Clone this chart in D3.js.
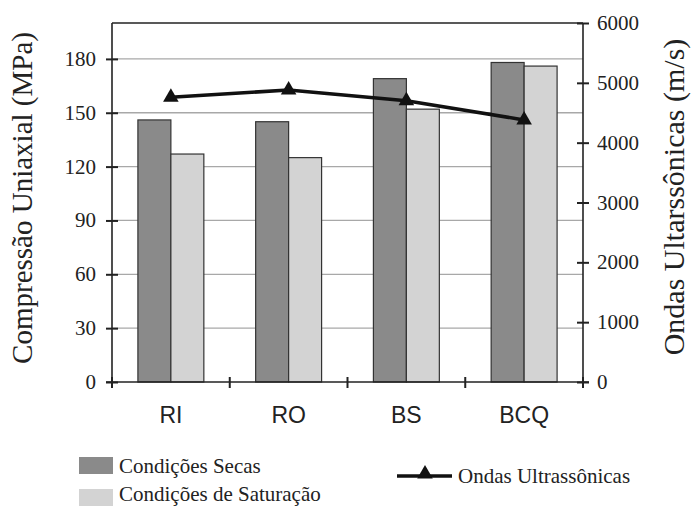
<!DOCTYPE html>
<html>
<head>
<meta charset="utf-8">
<script src="https://cdn.jsdelivr.net/npm/d3@7"></script>
<style>
  html, body { margin: 0; padding: 0; background: #fff; }
  svg { display: block; }
</style>
</head>
<body>
<svg id="chart" width="692" height="506"></svg>
<script>
const categories = ["RI", "RO", "BS", "BCQ"];
const seriesNames = ["Condições Secas", "Condições de Saturação"];
const drySeca = [146, 145, 169, 178];
const saturacao = [127, 125, 152, 176];
const ultrassom = [4760, 4880, 4700, 4380];
const leftTicks = [0, 30, 60, 90, 120, 150, 180];
const rightTicks = [0, 1000, 2000, 3000, 4000, 5000, 6000];
const lineName = "Ondas Ultrassônicas";
const leftTitle = "Compressão Uniaxial (MPa)";
const rightTitle = "Ondas Ultarssônicas (m/s)";

const SERIF = "'Liberation Serif'";
const SANS = "'Liberation Sans'";
const L = 112, R = 583, T = 23, B = 382;

function serifText(parent, px, py, str, size, anchor) {
  return parent.append("text").attr("x", px).attr("y", py)
    .attr("text-anchor", anchor || "start")
    .style("font-family", SERIF).style("font-size", size + "px")
    .attr("fill", "#222").text(str);
}

function draw() {
  const svg = d3.select("#chart");
  svg.selectAll("*").remove();

  const x = d3.scaleBand().domain(categories).range([L, R]).padding(0);
  const bw = x.bandwidth();
  const xs = d3.scaleBand().domain(seriesNames).range([0.22 * bw, 0.78 * bw]).padding(0);
  const yL = d3.scaleLinear().domain([0, 200]).range([B, T]);
  const yR = d3.scaleLinear().domain([0, 6000]).range([B, T]);
  const colors = { "Condições Secas": "#8a8a8a", "Condições de Saturação": "#d3d3d3" };

  // gridlines
  svg.append("g").selectAll("line").data(leftTicks.filter(d => d > 0)).join("line")
    .attr("x1", L).attr("x2", R)
    .attr("y1", d => yL(d)).attr("y2", d => yL(d))
    .attr("stroke", "#a8a8a8").attr("stroke-width", 1.3);

  // top frame
  svg.append("line").attr("x1", L).attr("x2", R).attr("y1", T).attr("y2", T)
    .attr("stroke", "#222").attr("stroke-width", 1.5);

  // bars
  const rows = categories.map((c, i) => ({ c, vals: [drySeca[i], saturacao[i]] }));
  const gBars = svg.append("g");
  rows.forEach(r => {
    seriesNames.forEach((s, j) => {
      gBars.append("rect")
        .attr("x", x(r.c) + xs(s))
        .attr("y", yL(r.vals[j]))
        .attr("width", xs.bandwidth())
        .attr("height", B - yL(r.vals[j]))
        .attr("fill", colors[s])
        .attr("stroke", "#333").attr("stroke-width", 1.2);
    });
  });

  // left axis
  const axL = svg.append("g").attr("transform", `translate(${L},0)`)
    .call(d3.axisLeft(yL).tickValues(leftTicks).tickSize(6).tickFormat(d3.format("d")));
  axL.select(".domain").remove();
  axL.selectAll(".tick text").remove();
  axL.append("line").attr("x1", 0).attr("x2", 0).attr("y1", T).attr("y2", B + 6).attr("stroke", "#222").attr("stroke-width", 1.6);
  axL.selectAll(".tick line").attr("x1", -6).attr("x2", 6).attr("stroke", "#222").attr("stroke-width", 2);
  const gL = svg.append("g");
  leftTicks.forEach(d => serifText(gL, L - 16, yL(d) + 7, String(d), 21, "end"));

  // right axis
  const axR = svg.append("g").attr("transform", `translate(${R},0)`)
    .call(d3.axisRight(yR).tickValues(rightTicks).tickSize(6).tickFormat(d3.format("d")));
  axR.select(".domain").remove();
  axR.selectAll(".tick text").remove();
  axR.append("line").attr("x1", 0).attr("x2", 0).attr("y1", T).attr("y2", B + 6).attr("stroke", "#222").attr("stroke-width", 1.6);
  axR.selectAll(".tick line").attr("x1", -6).attr("x2", 6).attr("stroke", "#222").attr("stroke-width", 2);
  const gR = svg.append("g");
  rightTicks.forEach(d => serifText(gR, R + 14, yR(d) + 7, String(d), 21, "start"));

  // bottom axis
  svg.append("line").attr("x1", L - 6).attr("x2", R + 6).attr("y1", B).attr("y2", B).attr("stroke", "#222").attr("stroke-width", 1.6);
  const bounds = categories.map(c => x(c)).concat([R]);
  svg.append("g").selectAll("line").data(bounds).join("line")
    .attr("x1", d => d).attr("x2", d => d).attr("y1", B - 5).attr("y2", B + 6)
    .attr("stroke", "#222").attr("stroke-width", 2);
  svg.append("g").selectAll("text").data(categories).join("text")
    .attr("x", d => x(d) + bw / 2).attr("y", 423)
    .attr("text-anchor", "middle")
    .style("font-family", SANS).style("font-size", "23px").attr("fill", "#222")
    .text(d => d);

  // line series
  const line = d3.line().x((d, i) => x(categories[i]) + bw / 2).y(d => yR(d));
  svg.append("path").datum(ultrassom).attr("d", line)
    .attr("fill", "none").attr("stroke", "#111").attr("stroke-width", 3.5);
  svg.append("g").selectAll("path").data(ultrassom).join("path")
    .attr("transform", (d, i) => `translate(${x(categories[i]) + bw / 2},${yR(d)})`)
    .attr("d", d3.symbol(d3.symbolTriangle, 105))
    .attr("fill", "#111");

  // axis titles
  svg.append("text").attr("transform", "translate(32,198) rotate(-90)")
    .attr("text-anchor", "middle").style("font-family", SERIF).style("font-size", "29px").attr("fill", "#222").text(leftTitle);
  svg.append("text").attr("transform", "translate(684,197) rotate(-90)")
    .attr("text-anchor", "middle").style("font-family", SERIF).style("font-size", "30px").attr("fill", "#222").text(rightTitle);

  // legend
  const lg = svg.append("g");
  lg.append("rect").attr("x", 79).attr("y", 457).attr("width", 34).attr("height", 17).attr("fill", colors[seriesNames[0]]);
  serifText(lg, 119, 473, seriesNames[0], 21);
  lg.append("rect").attr("x", 79).attr("y", 489).attr("width", 34).attr("height", 17).attr("fill", colors[seriesNames[1]]);
  serifText(lg, 119, 501, seriesNames[1], 21);
  lg.append("line").attr("x1", 397).attr("x2", 452).attr("y1", 476).attr("y2", 476).attr("stroke", "#111").attr("stroke-width", 3.5);
  lg.append("path").attr("transform", "translate(425,474)").attr("d", d3.symbol(d3.symbolTriangle, 105)).attr("fill", "#111");
  serifText(lg, 458, 483, lineName, 21);
}

draw();
if (document.fonts && document.fonts.load) {
  Promise.all([
    document.fonts.load("21px 'Liberation Serif'"),
    document.fonts.load("29px 'Liberation Serif'"),
    document.fonts.load("23px 'Liberation Sans'")
  ]).then(draw).catch(() => {});
}
</script>
</body>
</html>
